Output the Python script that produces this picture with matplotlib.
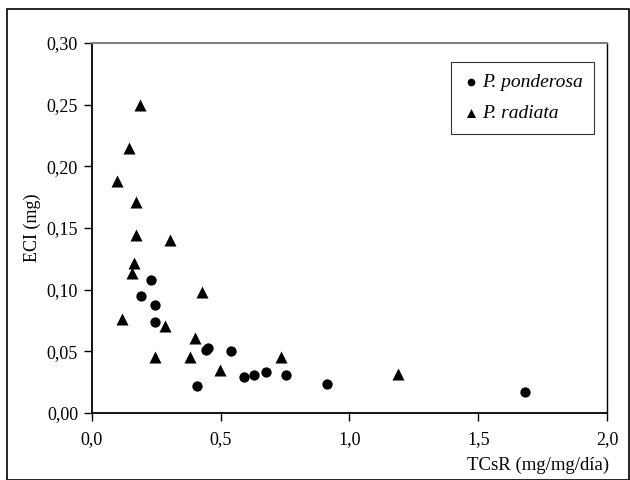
# ECI vs TCsR scatter for two Pinus species

import matplotlib
matplotlib.use("Agg")
import matplotlib.pyplot as plt
from matplotlib.patches import Rectangle
from matplotlib.ticker import FuncFormatter

plt.rcParams['font.family'] = ['Liberation Serif', 'DejaVu Serif']

# P. ponderosa (circles)
pond_x = [0.230, 0.190, 0.243, 0.243, 0.443, 0.452, 0.539, 0.409, 0.590, 0.630,
          0.676, 0.753, 0.914, 1.683]
pond_y = [0.1076, 0.0951, 0.0873, 0.0734, 0.0510, 0.0530, 0.0501, 0.0220, 0.0295, 0.0309,
          0.0333, 0.0309, 0.0233, 0.0168]

# P. radiata (triangles)
rad_x = [0.186, 0.142, 0.097, 0.170, 0.170, 0.304, 0.163, 0.155, 0.117, 0.427,
         0.285, 0.400, 0.246, 0.381, 0.498, 0.735, 1.187]
rad_y = [0.250, 0.2146, 0.188, 0.171, 0.144, 0.140, 0.122, 0.1136, 0.0762, 0.0981,
         0.0702, 0.0607, 0.0458, 0.0453, 0.0350, 0.0453, 0.0314]

fig = plt.figure(figsize=(6.3, 4.8), dpi=100)
ax = fig.add_axes([0.146, 0.1396, 0.8175, 0.7708])

ax.scatter(pond_x, pond_y, marker='o', s=55, color='black', linewidths=0,
           label='P. ponderosa', zorder=3)
ax.scatter(rad_x, rad_y, marker='^', s=75, color='black', linewidths=0,
           label='P. radiata', zorder=3)

ax.set_xlim(0, 2.0)
ax.set_ylim(0, 0.30)
ax.set_xticks([0, 0.5, 1.0, 1.5, 2.0])
ax.set_yticks([0, 0.05, 0.10, 0.15, 0.20, 0.25, 0.30])
ax.xaxis.set_major_formatter(FuncFormatter(lambda v, p: f"{v:.1f}".replace('.', ',')))
ax.yaxis.set_major_formatter(FuncFormatter(lambda v, p: f"{v:.2f}".replace('.', ',')))
ax.tick_params(direction='out', length=6, width=1, labelsize=13, pad=4)
ax.tick_params(axis='x', pad=7)

for side in ['left', 'bottom']:
    ax.spines[side].set_linewidth(1.3)
ax.spines['right'].set_linewidth(1.0)
ax.spines['top'].set_color('#808080')
ax.spines['top'].set_linewidth(1.5)

ax.set_ylabel("ECI (mg)", fontsize=13, labelpad=4)
ax.set_xlabel("TCsR (mg/mg/día)", fontsize=13.5, labelpad=0)
ax.xaxis.set_label_coords(1.005, -0.118, transform=ax.transAxes)
ax.xaxis.label.set_horizontalalignment('right')
ax.xaxis.label.set_verticalalignment('top')

leg = ax.legend(loc='upper right', bbox_to_anchor=(0.975, 0.949), frameon=True,
                fancybox=False, edgecolor='black', markerscale=0.75,
                handletextpad=0.1, handlelength=0.9, borderpad=0.6,
                labelspacing=0.7, borderaxespad=0,
                prop={'style': 'italic', 'size': 14})
leg.get_frame().set_linewidth(0.8)

# outer border of the figure
fig.patches.append(Rectangle((0.011, 0.0), 0.987, 0.981, transform=fig.transFigure,
                             fill=False, edgecolor='black', linewidth=1.2))

fig.savefig("out.png", dpi=100)
